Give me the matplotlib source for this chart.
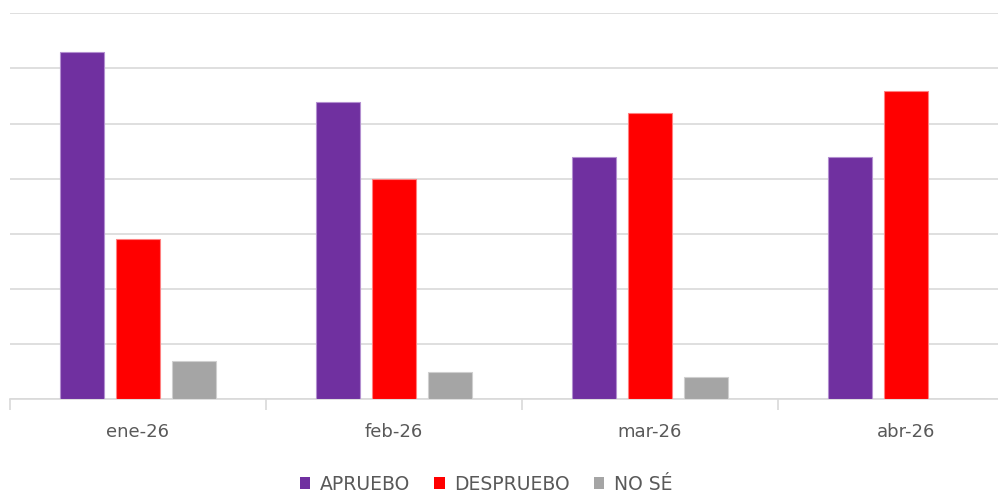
import numpy as np
import matplotlib.pyplot as plt
from matplotlib.patches import Patch

# Datos (porcentajes)
meses = ['ene-26', 'feb-26', 'mar-26', 'abr-26']
apruebo = [63, 54, 44, 44]
desapruebo = [29, 40, 52, 56]
no_se = [7, 5, 4, 0]

series = ['APRUEBO', 'DESPRUEBO', 'NO SÉ']
colores = ['#7030A0', '#FF0000', '#A5A5A5']
bordes = ['#B38FD0', '#FF8080', '#CFCFCF']

fig = plt.figure(figsize=(9.98, 4.93), dpi=100)
# el grafico original esta recortado por la derecha
ax = fig.add_axes([10 / 998, 1 - 399.3 / 493, 1024 / 998, 386 / 493])

x = np.arange(len(meses))
ancho = 0.172
paso = 0.219
for i, vals in enumerate([apruebo, desapruebo, no_se]):
    ax.bar(x + (i - 1) * paso, vals, width=ancho, color=colores[i],
           edgecolor=bordes[i], linewidth=0.8, zorder=3)

ax.set_xlim(-0.5, len(meses) - 0.5)
ax.set_ylim(0, 70)
ax.set_yticks(np.arange(0, 71, 10))
ax.yaxis.grid(True, color='#D9D9D9', linewidth=1.2, zorder=0)
ax.tick_params(axis='y', left=False, labelleft=False)

# ticks del eje x en los limites de categoria, etiquetas en el centro
ax.set_xticks(np.arange(-0.5, len(meses), 1.0))
ax.set_xticklabels([])
ax.set_xticks(x, minor=True)
ax.set_xticklabels(meses, minor=True, fontsize=13, color='#595959')
ax.tick_params(axis='x', which='major', length=8, color='#D9D9D9', width=1.2)
ax.tick_params(axis='x', which='minor', length=0, pad=17)

for s in ['top', 'right', 'left']:
    ax.spines[s].set_visible(False)
ax.spines['bottom'].set_color('#D9D9D9')
ax.spines['bottom'].set_linewidth(1.2)

handles = [Patch(facecolor=c, edgecolor='none') for c in colores]
fig.legend(handles, series, loc='center', bbox_to_anchor=(486 / 998, 1 - 484 / 493),
           ncol=3, frameon=False, fontsize=13.5, labelcolor='#595959',
           handlelength=0.55, handleheight=0.55, handletextpad=0.5, columnspacing=1.3)

plt.savefig('out.png', dpi=100)
